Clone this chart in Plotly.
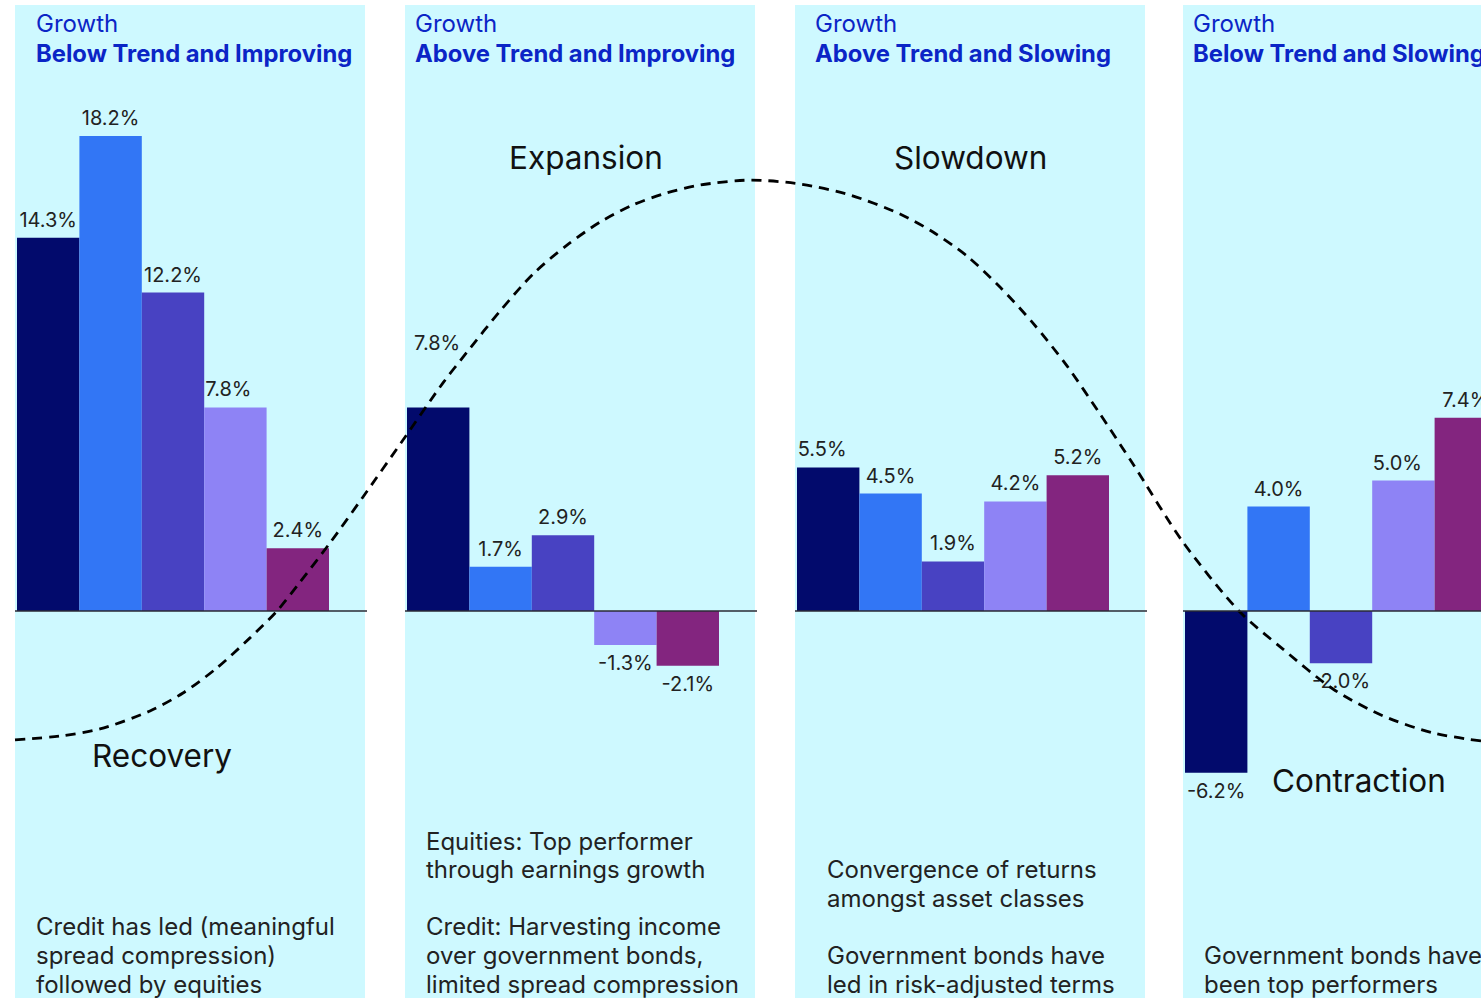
import plotly.graph_objects as go

# ---------------- data ----------------
phases = ["Recovery", "Expansion", "Slowdown", "Contraction"]
growth_states = ["Below Trend and Improving", "Above Trend and Improving",
                 "Above Trend and Slowing", "Below Trend and Slowing"]

series_1 = [14.3, 7.8, 5.5, -6.2]
series_2 = [18.2, 1.7, 4.5, 4.0]
series_3 = [12.2, 2.9, 1.9, -2.0]
series_4 = [7.8, -1.3, 4.2, 5.0]
series_5 = [2.4, -2.1, 5.2, 7.4]
all_series = [series_1, series_2, series_3, series_4, series_5]

notes = [
    ["Credit has led (meaningful", "spread compression)", "followed by equities"],
    ["Equities: Top performer", "through earnings growth", "",
     "Credit: Harvesting income", "over government bonds,", "limited spread compression"],
    ["Convergence of returns", "amongst asset classes", "",
     "Government bonds have", "led in risk-adjusted terms"],
    ["Government bonds have", "been top performers"],
]

# schematic business-cycle curve (position, level in %)
cycle_pos = [15, 60, 100, 150, 183, 217, 250, 277, 300, 330, 363, 403, 443, 467, 500,
             533, 567, 600, 633, 667, 700, 750, 800, 850, 900, 933, 967, 1000, 1033,
             1067, 1100, 1133, 1183, 1240, 1283, 1333, 1383, 1433, 1481]
cycle_level = [-4.94, -4.79, -4.52, -3.83, -3.14, -2.18, -1.03, 0.00, 1.11, 2.61, 4.37,
               6.55, 8.74, 9.92, 11.49, 12.91, 14.02, 14.90, 15.56, 16.02, 16.32, 16.51,
               16.36, 15.94, 15.21, 14.52, 13.60, 12.41, 11.03, 9.39, 7.55, 5.63, 2.64,
               -0.04, -1.46, -2.99, -4.02, -4.67, -4.98]

# ---------------- style / layout ----------------
W, H = 1481, 998
ZERO_PX = 611.0
PX_PER_PCT = 26.1
panel_left = [15, 405, 795, 1183]
panel_w = 350
bar_w = 62.4
bar_colors = ["#020A6C", "#3276F5", "#4842C2", "#8E83F5", "#83257F"]
panel_color = "#CEF9FF"
title_color = "#0B25C6"
text_color = "#222222"
FONT = "Inter"


def py2y(py):
    return (ZERO_PX - py) / PX_PER_PCT


fig = go.Figure()

# panels
for left in panel_left:
    fig.add_shape(type="rect", xref="x", yref="y", x0=left, x1=left + panel_w,
                  y0=py2y(H + 20), y1=py2y(5), fillcolor=panel_color,
                  line=dict(width=0), layer="below")

# bars
bar_x = [[left + 2 + bar_w * (i + 0.5) for left in panel_left] for i in range(5)]
for i, vals in enumerate(all_series):
    fig.add_trace(go.Bar(x=bar_x[i], y=vals, width=bar_w,
                         marker=dict(color=bar_colors[i], line=dict(width=0)),
                         hoverinfo="skip", showlegend=False))

# zero lines
for left in panel_left:
    fig.add_shape(type="line", xref="x", yref="y", x0=left, x1=left + panel_w + 2,
                  y0=0, y1=0, line=dict(color="#2A2A35", width=1.3), layer="above")

# value labels (drawn before the curve so the curve sits on top)
nudge = {(1, 0): (-1, 46), (0, 3): (-7, 0), (2, 0): (-6, 0), (3, 3): (-6, 0)}
lx, ly, lt = [], [], []
for i, vals in enumerate(all_series):
    for p, v in enumerate(vals):
        dx, dy = nudge.get((p, i), (0, 0))
        off = 16 if v >= 0 else -20
        lx.append(bar_x[i][p] + dx)
        ly.append(v + (off + (dy if v >= 0 else -dy)) / PX_PER_PCT)
        lt.append(f"{v:.1f}%")
fig.add_trace(go.Scatter(x=lx, y=ly, text=lt, mode="text", textposition="middle center",
                         textfont=dict(family=FONT, size=20, color=text_color),
                         hoverinfo="skip", showlegend=False))

# cycle curve
fig.add_trace(go.Scatter(x=cycle_pos, y=cycle_level, mode="lines",
                         line=dict(color="#000000", width=2.8, dash="10px,7px",
                                   shape="spline", smoothing=0.8),
                         hoverinfo="skip", showlegend=False))

annotations = []
# panel headings
title_x = [34, 413, 813, 1191]
for p in range(4):
    annotations.append(dict(x=title_x[p], y=py2y(23), xref="x", yref="y", text="Growth",
                            xanchor="left", yanchor="middle", showarrow=False,
                            font=dict(family=FONT, size=24, color=title_color)))
    annotations.append(dict(x=title_x[p], y=py2y(53), xref="x", yref="y",
                            text=f"<b>{growth_states[p]}</b>",
                            xanchor="left", yanchor="middle", showarrow=False,
                            font=dict(family=FONT, size=23.8, color=title_color)))

# phase names
phase_pos = [(162, 755), (586, 157), (970, 157), (1359, 780)]
for name, (px, py) in zip(phases, phase_pos):
    annotations.append(dict(x=px, y=py2y(py), xref="x", yref="y", text=name,
                            xanchor="center", yanchor="middle", showarrow=False,
                            font=dict(family=FONT, size=31.5, color="#111111")))

# notes
note_x = [34, 424, 825, 1202]
line_h = 28.6
for p, lines in enumerate(notes):
    n = len(lines)
    for k, line in enumerate(lines):
        if not line:
            continue
        py = 984 - (n - 1 - k) * line_h
        annotations.append(dict(x=note_x[p], y=py2y(py), xref="x", yref="y", text=line,
                                xanchor="left", yanchor="middle", showarrow=False,
                                font=dict(family=FONT, size=24, color=text_color)))

fig.update_layout(
    width=W, height=H,
    margin=dict(l=0, r=0, t=0, b=0),
    paper_bgcolor="white", plot_bgcolor="white",
    barmode="overlay",
    xaxis=dict(range=[0, W], visible=False, fixedrange=True),
    yaxis=dict(range=[py2y(H), py2y(0)], visible=False, fixedrange=True),
    annotations=annotations,
    showlegend=False,
)

fig.write_html("out.html", config={"displayModeBar": False},
               post_script="document.body.style.margin='0';document.body.style.overflow='hidden';")
